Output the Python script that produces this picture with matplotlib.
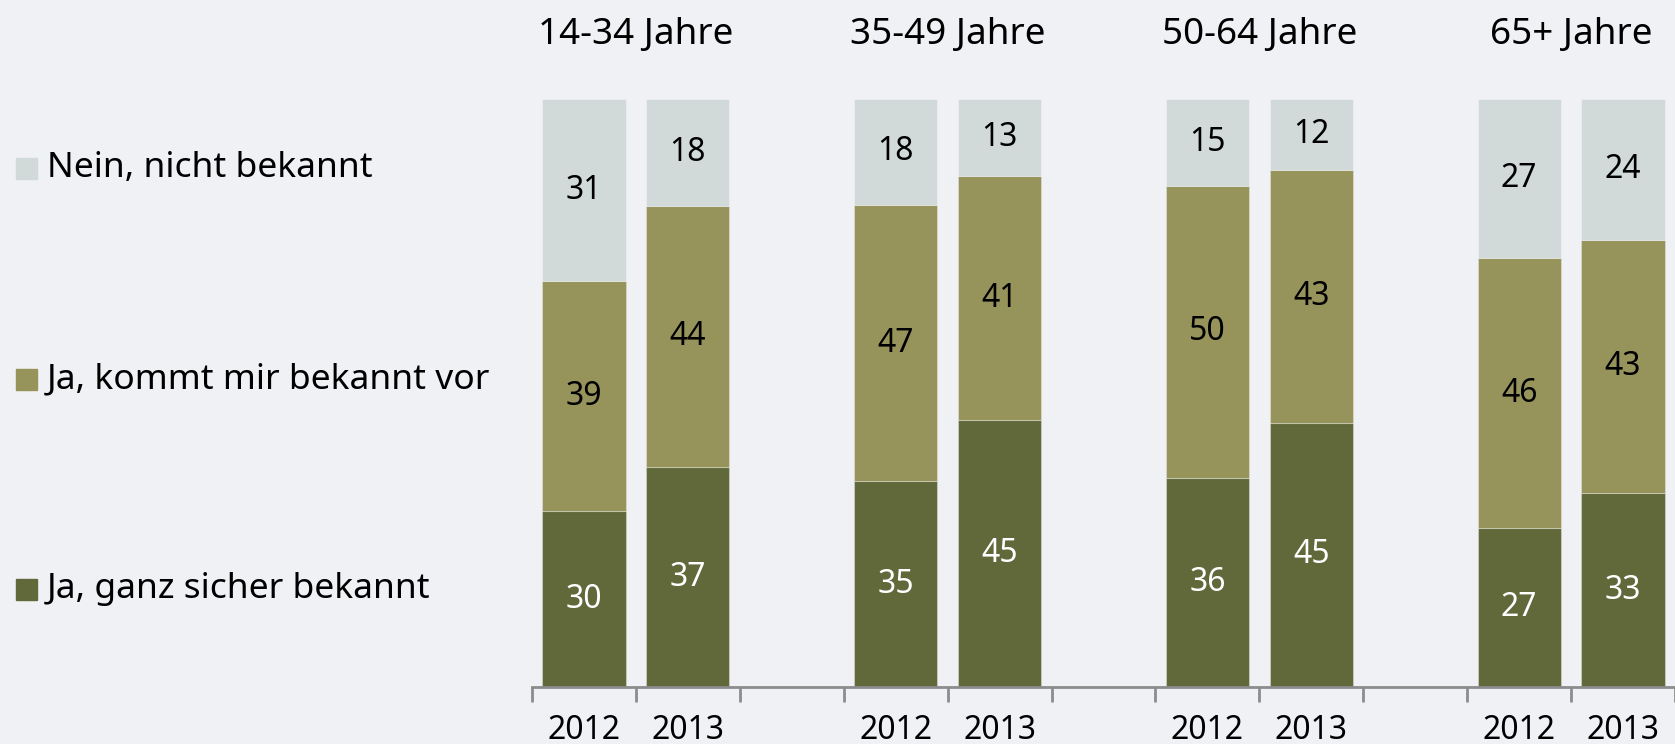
import matplotlib.pyplot as plt
from matplotlib.patches import Rectangle
import numpy as np

plt.rcParams['font.family'] = ['Noto Sans', 'DejaVu Sans']

groups = ["14-34 Jahre", "35-49 Jahre", "50-64 Jahre", "65+ Jahre"]
years = ["2012", "2013"]
series = ["Ja, ganz sicher bekannt", "Ja, kommt mir bekannt vor", "Nein, nicht bekannt"]

# values per bar: 14-34 2012, 14-34 2013, 35-49 2012, ... 65+ 2013
sicher = [30, 37, 35, 45, 36, 45, 27, 33]
bekannt_vor = [39, 44, 47, 41, 50, 43, 46, 43]
nein = [31, 18, 18, 13, 15, 12, 27, 24]

colors = ["#61683a", "#96935b", "#d1dad9"]
label_colors = ["white", "black", "black"]
bg = "#f0f1f5"

fig = plt.figure(figsize=(16.75, 7.44), dpi=100, facecolor=bg)
ax = fig.add_axes([532 / 1675, 56.7 / 744, 1 - 532 / 1675, 588.3 / 744])
ax.set_facecolor(bg)

# slot positions: two bars per group, one empty slot between groups
pos = []
for g in range(len(groups)):
    pos += [g * 3, g * 3 + 1]
pos = np.array(pos)

data = np.array([sicher, bekannt_vor, nein], dtype=float)
shares = data / data.sum(axis=0) * 100  # bars stacked to 100 %

bottom = np.zeros(len(pos))
for k in range(3):
    ax.bar(pos, shares[k], 0.8, bottom=bottom, color=colors[k],
           edgecolor=(1, 1, 1, 0.3), linewidth=0.8)
    for x, b, h, v in zip(pos, bottom, shares[k], data[k]):
        ax.text(x, b + h / 2, "%d" % v, ha="center", va="center",
                fontsize=23, color=label_colors[k])
    bottom += shares[k]

# last bar runs to the right edge of the picture
ax.set_xlim(-0.5, 10.4)
ax.set_ylim(0, 100)
ax.set_yticks([])
for s in ["top", "right", "left"]:
    ax.spines[s].set_visible(False)
ax.spines["bottom"].set_color("#8c8c8c")
ax.spines["bottom"].set_linewidth(2)

ax.set_xticks(pos)
ax.set_xticklabels([years[i % 2] for i in range(len(pos))], fontsize=23)
ax.tick_params(axis="x", which="major", length=0, pad=37)
for lbl in ax.get_xticklabels():
    lbl.set_verticalalignment("baseline")
ax.set_xticks(np.arange(-0.5, 11, 1), minor=True)
ax.tick_params(axis="x", which="minor", length=11, width=2, color="#8c8c8c")

for g, name in enumerate(groups):
    ax.text(g * 3 + 0.5, 1.0 + 64 / 588, name, transform=ax.get_xaxis_transform(),
            ha="center", va="center", fontsize=26.5)

# legend on the left
leg_y = [744 - 168, 744 - 379, 744 - 589]
for k, y in zip([2, 1, 0], leg_y):
    fig.patches.append(Rectangle((16 / 1675, (y - 10.5) / 744), 21 / 1675, 21 / 744,
                                 transform=fig.transFigure, color=colors[k]))
    fig.text(47 / 1675, y / 744, series[k], ha="left", va="center", fontsize=25.5)

fig.savefig("out.png", dpi=100, facecolor=bg)
